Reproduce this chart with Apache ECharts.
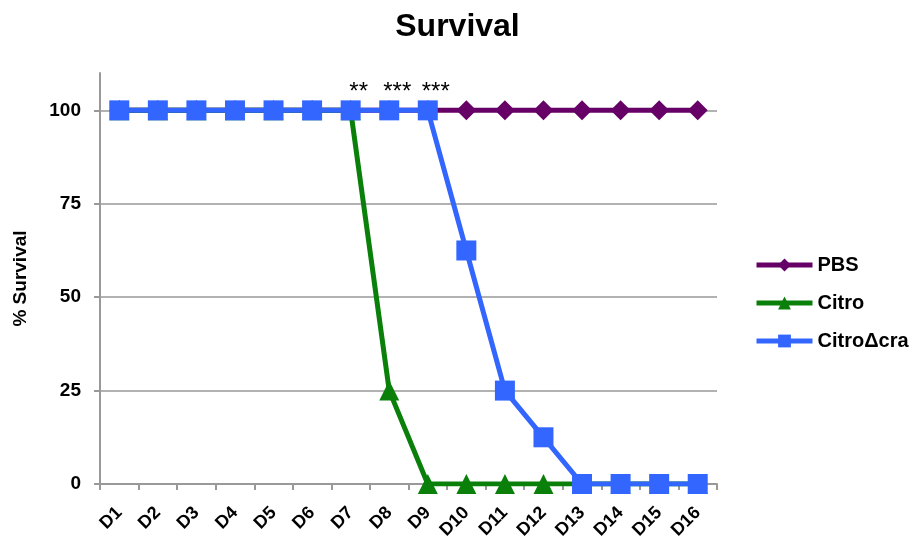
<!DOCTYPE html>
<html>
<head>
<meta charset="utf-8">
<script src="https://cdn.jsdelivr.net/npm/echarts@6/dist/echarts.min.js"></script>
<style>html,body{margin:0;padding:0;background:#fff;}#c{width:915px;height:539px;}</style>
</head>
<body>
<div id="c"></div>
<script>
const categories = ['D1','D2','D3','D4','D5','D6','D7','D8','D9','D10','D11','D12','D13','D14','D15','D16'];
const pbs   = [100,100,100,100,100,100,100,100,100,100,100,100,100,100,100,100];
const citro = [100,100,100,100,100,100,100,25,0,0,0,0,0,0,0,0];
const citroCra = [100,100,100,100,100,100,100,100,100,62.5,25,12.5,0,0,0,0];
const yTicks = [0,25,50,75,100];
const stars = [['D7','**'],['D8','***'],['D9','***']];

const font = 'Arial, "Liberation Sans", sans-serif';
const chart = echarts.init(document.getElementById('c'));
chart.setOption({
  animation: false,
  title: {text: 'Survival', left: 'center', top: 6,
    textStyle: {fontFamily: font, fontSize: 32, fontWeight: 'bold', color: '#000'}},
  legend: {
    orient: 'vertical', left: 749, top: 250, itemGap: 18, itemWidth: 56, itemHeight: 16,
    lineStyle: {width: 5},
    textStyle: {fontFamily: font, fontSize: 20, fontWeight: 'bold', color: '#000', padding: [0,0,0,0]},
    data: ['PBS','Citro','CitroΔcra']
  },
  grid: {left: 100, right: 198, top: 73, bottom: 55, containLabel: false, outerBoundsMode: 'none'},
  xAxis: {
    type: 'category', data: categories, boundaryGap: true,
    axisLine: {lineStyle: {color: '#999', width: 2}},
    axisTick: {show: true, length: 6, lineStyle: {color: '#999', width: 2}},
    axisLabel: {rotate: 45, fontFamily: font, fontSize: 18, fontWeight: 'bold', color: '#000', margin: 26},
    splitLine: {show: false}
  },
  yAxis: {
    type: 'value', min: 0, max: 110, interval: 25,
    name: '% Survival', nameLocation: 'middle', nameGap: 70, nameRotate: 90,
    nameTextStyle: {fontFamily: font, fontSize: 19, fontWeight: 'bold', color: '#000'},
    axisLine: {show: true, lineStyle: {color: '#999', width: 2}},
    axisTick: {show: true, length: 6, lineStyle: {color: '#999', width: 2},
      customValues: yTicks},
    axisLabel: {fontFamily: font, fontSize: 19, fontWeight: 'bold', color: '#000', margin: 19,
      customValues: yTicks},
    splitLine: {show: true, lineStyle: {color: ['#999','#999','#999','#999','#999','transparent'], width: 1.5}}
  },
  series: [
    {name: 'PBS', type: 'line', data: pbs, symbol: 'diamond', symbolSize: 20,
      lineStyle: {color: '#660066', width: 5}, itemStyle: {color: '#660066'}},
    {name: 'Citro', type: 'line', data: citro, symbol: 'triangle', symbolSize: 20,
      lineStyle: {color: '#0a800a', width: 5}, itemStyle: {color: '#0a800a'}},
    {name: 'CitroΔcra', type: 'line', data: citroCra, symbol: 'rect', symbolSize: 20,
      lineStyle: {color: '#3366ff', width: 5}, itemStyle: {color: '#3366ff'},
      markPoint: {
        symbol: 'circle', symbolSize: 1, itemStyle: {color: 'rgba(0,0,0,0)'},
        label: {show: true, position: 'top', offset: [8, 0], fontFamily: font, fontSize: 24, color: '#000',
          formatter: p => p.name},
        data: stars.map(s => ({name: s[1], coord: [s[0], 100]}))
      }}
  ]
});
</script>
</body>
</html>
